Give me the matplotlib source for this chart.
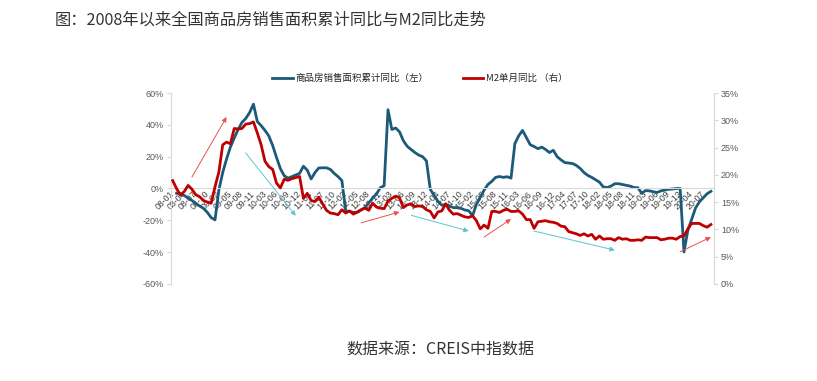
import matplotlib
matplotlib.use('Agg')
import matplotlib.pyplot as plt
import numpy as np

plt.rcParams['font.family'] = ['Noto Sans CJK SC', 'DejaVu Sans']

# month categories: all of 2008, then Feb-Dec (Jan folded into Feb) up to 2020-09
months = [f'08-{m:02d}' for m in range(1, 13)]
for yy in range(9, 20):
    months += [f'{yy:02d}-{m:02d}' for m in range(2, 13)]
months += [f'20-{m:02d}' for m in range(2, 10)]

# 商品房销售面积累计同比 (%), left axis
area_2008 = [np.nan, -3.0, -3.5, -4.4, -6.0, -7.5, -9.5, -11.0, -12.5, -15.0, -18.3, -19.7]
area_2009 = [-1.0, 10.0, 18.5, 26.0, 31.7, 37.0, 41.5, 44.0, 47.7, 53.0, 42.1]
area_2010 = [39.5, 36.5, 33.0, 27.0, 19.5, 12.5, 8.0, 6.5, 7.5, 8.5, 9.5]
area_2011 = [14.0, 11.5, 6.0, 10.0, 12.9, 13.0, 13.0, 12.0, 9.5, 7.5, 5.0]
area_2012 = [-14.0, -14.5, -15.0, -15.0, -13.5, -12.0, -9.0, -6.0, -3.5, 0.5, 1.8]
area_2013 = [49.5, 37.1, 38.0, 35.6, 30.0, 26.5, 24.5, 22.6, 21.0, 20.0, 17.3]
area_2014 = [-0.5, -4.5, -8.0, -10.5, -10.0, -11.0, -12.0, -12.0, -12.5, -13.5, -14.0]
area_2015 = [-17.0, -10.0, -5.5, -1.0, 2.5, 4.5, 7.0, 7.5, 7.0, 7.4, 6.5]
area_2016 = [28.2, 33.1, 36.5, 32.0, 27.5, 26.4, 25.0, 26.0, 24.5, 22.6, 24.0]
area_2017 = [20.0, 18.0, 16.3, 16.0, 15.7, 14.5, 12.6, 10.0, 8.2, 7.0, 5.5]
area_2018 = [4.0, 1.0, 0.6, 1.5, 3.0, 3.0, 2.5, 2.0, 1.5, 0.6, 0.5]
area_2019 = [-3.0, -1.3, -1.5, -2.0, -2.5, -1.5, -1.0, -0.5, -0.3, 0.0, 0.0]
area_2020 = [-39.9, -26.3, -19.3, -12.3, -8.4, -5.8, -3.3, -1.8]

# M2单月同比 (%), right axis
m2_2008 = [18.94, 17.48, 16.29, 16.94, 18.07, 17.37, 16.35, 16.00, 15.29, 15.02, 14.80, 17.82]
m2_2009 = [20.5, 25.5, 26.0, 25.7, 28.5, 28.4, 28.5, 29.3, 29.4, 29.7, 27.7]
m2_2010 = [25.5, 22.5, 21.5, 21.0, 18.5, 17.6, 19.2, 19.0, 19.3, 19.5, 19.7]
m2_2011 = [15.7, 16.6, 15.3, 15.1, 15.9, 14.7, 13.5, 13.0, 12.9, 12.7, 13.6]
m2_2012 = [13.0, 13.4, 12.8, 13.2, 13.6, 13.9, 13.5, 14.8, 14.1, 13.9, 13.8]
m2_2013 = [15.2, 15.7, 16.1, 15.8, 14.0, 14.5, 14.7, 14.2, 14.3, 14.2, 13.6]
m2_2014 = [13.3, 12.1, 13.2, 13.4, 14.7, 13.5, 12.8, 12.9, 12.6, 12.3, 12.2]
m2_2015 = [12.5, 11.6, 10.1, 10.8, 10.2, 13.3, 13.3, 13.1, 13.5, 13.7, 13.3]
m2_2016 = [13.3, 13.4, 12.8, 11.8, 11.8, 10.2, 11.4, 11.5, 11.6, 11.4, 11.3]
m2_2017 = [11.1, 10.6, 10.5, 9.6, 9.4, 9.2, 8.9, 9.2, 8.8, 9.1, 8.2]
m2_2018 = [8.8, 8.2, 8.3, 8.3, 8.0, 8.5, 8.2, 8.3, 8.0, 8.0, 8.1]
m2_2019 = [8.0, 8.6, 8.5, 8.5, 8.5, 8.1, 8.2, 8.4, 8.4, 8.2, 8.7]
m2_2020 = [8.8, 10.1, 11.1, 11.1, 11.1, 10.7, 10.4, 10.9]

area_yoy = (area_2008 + area_2009 + area_2010 + area_2011 + area_2012 + area_2013 + area_2014
            + area_2015 + area_2016 + area_2017 + area_2018 + area_2019 + area_2020)
m2_yoy = (m2_2008 + m2_2009 + m2_2010 + m2_2011 + m2_2012 + m2_2013 + m2_2014
          + m2_2015 + m2_2016 + m2_2017 + m2_2018 + m2_2019 + m2_2020)

# trend arrows (start month, start %, end month, end %, colour) on the right axis
red_arrow = '#E8524F'
cyan_arrow = '#5CC6CF'
trend_arrows = [
    ('08-06', 19.6, '09-04', 30.6, red_arrow),
    ('09-09', 24.0, '10-11', 12.5, cyan_arrow),
    ('12-06', 11.2, '13-05', 13.2, red_arrow),
    ('13-08', 12.6, '14-12', 9.7, cyan_arrow),
    ('15-05', 8.6, '15-12', 11.9, red_arrow),
    ('16-07', 9.7, '18-06', 6.2, cyan_arrow),
    ('19-12', 5.9, '20-09', 8.6, red_arrow),
]

blue = '#1B5A78'
red = '#C00000'
grey = '#D9D9D9'
tick_col = '#595959'

x = np.arange(len(months))

fig = plt.figure(figsize=(8.17, 3.81), dpi=100)
ax = fig.add_axes([0.2093, 0.2546, 0.6646, 0.5013])
ax2 = ax.twinx()

# spine position first: moving it resets the tick labels
ax.spines['bottom'].set_position(('data', 0))
ax.spines['bottom'].set_color(grey)
for a in (ax, ax2):
    a.spines['top'].set_visible(False)
ax.spines['right'].set_visible(False)
ax2.spines['left'].set_visible(False)
ax2.spines['bottom'].set_visible(False)
ax.spines['left'].set_color(grey)
ax2.spines['right'].set_color(grey)

ax.plot(x, area_yoy, color=blue, lw=2.0, solid_joinstyle='round')
ax2.plot(x, m2_yoy, color=red, lw=2.0, solid_joinstyle='round')

ax.set_xlim(-0.45, 140.8)
ax.set_ylim(-60, 60)
ax.set_yticks(range(-60, 61, 20))
ax.set_yticklabels([f'{v}%' for v in range(-60, 61, 20)])
ax2.set_ylim(0, 35)
ax2.set_yticks(range(0, 36, 5))
ax2.set_yticklabels([f'{v}%' for v in range(0, 36, 5)])

ax.set_xticks(x[::3])
ax.set_xticklabels(months[::3], rotation=45, ha='right', va='center',
                   rotation_mode='anchor', fontsize=6.3, color='#404040',
                   family='Liberation Sans')
ax.tick_params(axis='x', length=0, pad=3)

ax.tick_params(axis='y', length=3, color=grey, labelsize=6.5, labelcolor=tick_col, pad=2)
ax2.tick_params(axis='y', length=3, color=grey, labelsize=6.5, labelcolor=tick_col, pad=2)
for lab in ax.get_yticklabels() + ax2.get_yticklabels():
    lab.set_family('Liberation Sans')

for m0, v0, m1, v1, col in trend_arrows:
    ax2.annotate('', xy=(months.index(m1), v1), xytext=(months.index(m0), v0),
                 arrowprops=dict(arrowstyle='-|>', color=col, lw=0.7, mutation_scale=7,
                                 shrinkA=0, shrinkB=0))

handles = [plt.Line2D([], [], color=blue, lw=2.0), plt.Line2D([], [], color=red, lw=2.0)]
fig.legend(handles, ['商品房销售面积累计同比（左）', 'M2单月同比 （右）'],
           loc='center', bbox_to_anchor=(0.514, 0.795), ncol=2, frameon=False,
           fontsize=6.8, handlelength=2.2, handletextpad=0.3, columnspacing=3.6,
           labelcolor='#262626')

fig.text(0.067, 0.9475, '图：2008年以来全国商品房销售面积累计同比与M2同比走势',
         fontsize=11.7, color='#333333', ha='left', va='center')
fig.text(0.5386, 0.081, '数据来源：CREIS中指数据', fontsize=11.5, color='#333333',
         ha='center', va='center')

fig.savefig('out.png', dpi=100)
